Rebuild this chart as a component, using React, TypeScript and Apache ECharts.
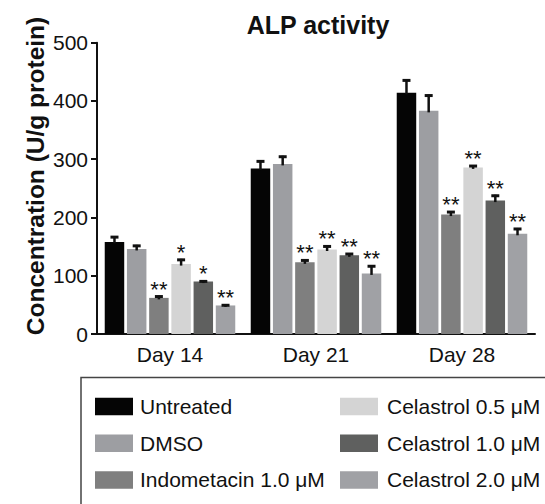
import React, { useEffect, useRef } from "react";
import * as echarts from "echarts";

const categories = ["Day 14", "Day 21", "Day 28"];
const seriesNames = [
  "Untreated",
  "DMSO",
  "Indometacin 1.0 μM",
  "Celastrol 0.5 μM",
  "Celastrol 1.0 μM",
  "Celastrol 2.0 μM",
];
const untreated = [158, 284, 414];
const dmso = [146, 292, 383];
const indometacin = [62, 123, 205];
const cel05 = [120, 145, 286];
const cel10 = [90, 135, 229];
const cel20 = [49, 104, 172];

const untreatedErr = [10, 14, 23];
const dmsoErr = [7, 14, 28];
const indometacinErr = [4, 5, 6];
const cel05Err = [9, 7, 4];
const cel10Err = [2, 4, 10];
const cel20Err = [2, 14, 10];

const untreatedSig = ["", "", ""];
const dmsoSig = ["", "", ""];
const indometacinSig = ["**", "**", "**"];
const cel05Sig = ["*", "**", "**"];
const cel10Sig = ["*", "**", "**"];
const cel20Sig = ["**", "**", "**"];

const yTicks = [0, 100, 200, 300, 400, 500];

const colors = ["#050505", "#9d9ea2", "#7f7f7f", "#d4d4d4", "#5f605f", "#a0a1a5"];
const FONT = "'Liberation Sans', Arial, Helvetica, sans-serif";

export default function App() {
  const ref = useRef<HTMLDivElement>(null);
  useEffect(() => {
    if (!ref.current) return;
    const chart = echarts.init(ref.current, undefined, { renderer: "svg" });
    const means = [untreated, dmso, indometacin, cel05, cel10, cel20];
    const errs = [untreatedErr, dmsoErr, indometacinErr, cel05Err, cel10Err, cel20Err];
    const sigs = [untreatedSig, dmsoSig, indometacinSig, cel05Sig, cel10Sig, cel20Sig];
    const n = seriesNames.length;
    const gapPct = 0.14;
    const catGapPct = 0.106;

    const errData: number[][] = [];
    const errSig: string[] = [];
    for (let s = 0; s < n; s++) {
      for (let c = 0; c < categories.length; c++) {
        errData.push([c, s, means[s][c], errs[s][c]]);
        errSig.push(sigs[s][c]);
      }
    }

    const barSeries = seriesNames.map((name, i) => ({
      name,
      type: "bar",
      data: means[i],
      barGap: gapPct * 100 + "%",
      barCategoryGap: catGapPct * 100 + "%",
      itemStyle: { color: colors[i] },
      emphasis: { disabled: true },
    }));

    const legendCommon = {
      orient: "vertical",
      top: 396,
      padding: 0,
      itemWidth: 38,
      itemHeight: 17.5,
      itemGap: 15.7,
      icon: "rect",
      selectedMode: false,
    };

    const option: any = {
      animation: false,
      title: {
        text: "ALP activity",
        left: 313,
        top: 7,
        textAlign: "center",
        textStyle: { fontFamily: FONT, fontSize: 25, fontWeight: "bold", color: "#111" },
      },
      grid: { left: 97, right: 10, top: 42.7, bottom: 170, containLabel: false },
      xAxis: {
        type: "category",
        data: categories,
        axisLine: { lineStyle: { color: "#111", width: 2 } },
        axisTick: { alignWithLabel: true, length: 7, lineStyle: { color: "#111", width: 2 } },
        axisLabel: { fontFamily: FONT, fontSize: 21, color: "#111", margin: 10 },
      },
      yAxis: {
        type: "value",
        min: yTicks[0],
        max: yTicks[yTicks.length - 1],
        interval: 100,
        splitLine: { show: false },
        axisLine: { show: true, lineStyle: { color: "#111", width: 2 } },
        axisTick: { show: true, length: 6, lineStyle: { color: "#111", width: 2 } },
        axisLabel: { fontFamily: FONT, fontSize: 21, color: "#111", margin: 9 },
      },
      legend: [
        {
          ...legendCommon,
          data: seriesNames.slice(0, 3),
          left: 95,
          textStyle: { fontFamily: FONT, fontSize: 21, lineHeight: 21, color: "#111", padding: [0, 0, 0, 2] },
        },
        {
          ...legendCommon,
          data: seriesNames.slice(3),
          left: 340,
          textStyle: { fontFamily: FONT, fontSize: 21, lineHeight: 21, color: "#111", padding: [0, 0, 0, 4] },
        },
      ],
      graphic: [
        {
          type: "rect",
          shape: { x: 81, y: 377.5, width: 600, height: 300 },
          style: { fill: "none", stroke: "#444", lineWidth: 1.5 },
          silent: true,
        },
        {
          type: "text",
          x: 35,
          y: 176,
          rotation: Math.PI / 2,
          style: {
            text: "Concentration (U/g protein)",
            fontFamily: FONT,
            fontSize: 24.5,
            fontWeight: "bold",
            fill: "#111",
            textAlign: "center",
            textVerticalAlign: "middle",
          },
        },
      ],
      series: [
        ...barSeries,
        {
          type: "custom",
          name: "errors",
          data: errData,
          encode: { x: 0, y: 2 },
          z: 5,
          silent: true,
          renderItem: (params: any, api: any) => {
            const cat = api.value(0);
            const s = api.value(1);
            const v = api.value(2);
            const e = api.value(3);
            const base = api.coord([cat, v]);
            const top = api.coord([cat, v + e]);
            const band = api.size([1, 0])[0];
            const w = (band * (1 - catGapPct)) / (n + (n - 1) * gapPct);
            const total = n * w + (n - 1) * w * gapPct;
            const x = base[0] - total / 2 + s * w * (1 + gapPct) + w / 2;
            const sig = errSig[params.dataIndex];
            const children: any[] = [
              {
                type: "line",
                shape: { x1: x, y1: base[1] + 1.5, x2: x, y2: top[1] },
                style: { stroke: "#111", lineWidth: 2.5 },
              },
              {
                type: "line",
                shape: { x1: x - 4, y1: top[1] + 1, x2: x + 4, y2: top[1] + 1 },
                style: { stroke: "#111", lineWidth: 3 },
              },
            ];
            if (sig) {
              children.push({
                type: "text",
                x: x,
                y: top[1] - 6.5,
                style: {
                  text: sig,
                  fontFamily: FONT,
                  fontSize: 22,
                  fill: "#111",
                  textAlign: "center",
                  textVerticalAlign: "middle",
                },
              });
            }
            return { type: "group", children };
          },
        },
      ],
    };
    chart.setOption(option);
    return () => chart.dispose();
  }, []);
  return (
    <div
      ref={ref}
      style={{ position: "fixed", left: 0, top: 0, width: 545, height: 504, background: "#fff" }}
    />
  );
}
